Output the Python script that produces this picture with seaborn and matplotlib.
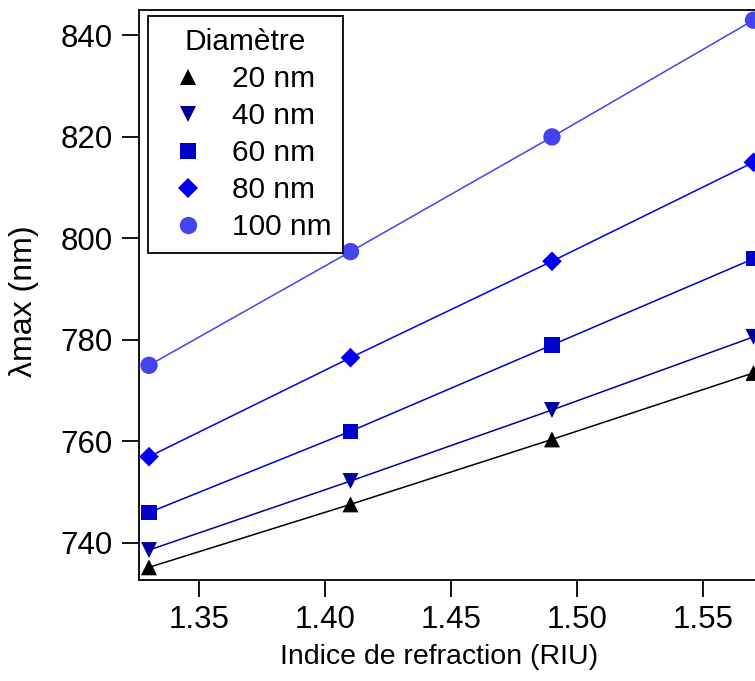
import matplotlib
matplotlib.use('Agg')
import matplotlib.pyplot as plt
from matplotlib.lines import Line2D
import pandas as pd
import seaborn as sns

# data
indices = [1.33, 1.41, 1.49, 1.57]
diametres = ['20 nm', '40 nm', '60 nm', '80 nm', '100 nm']
lam_20 = [735.2, 747.6, 760.4, 773.5]
lam_40 = [738.6, 752.2, 766.2, 780.6]
lam_60 = [746.0, 762.0, 779.0, 796.0]
lam_80 = [757.0, 776.5, 795.5, 815.0]
lam_100 = [775.0, 797.4, 820.0, 843.0]

couleurs = ['#000000', '#000099', '#0000CC', '#0000EE', '#4444EE']
symboles = ['^', 'v', 's', 'D', 'o']
tailles = [11.5, 11.5, 11, 10, 12.5]

rows = []
for d, vals in zip(diametres, [lam_20, lam_40, lam_60, lam_80, lam_100]):
    for n, v in zip(indices, vals):
        rows.append({'n': n, 'lam': v, 'diam': d})
df = pd.DataFrame(rows)

sns.set_style('ticks')
plt.rcParams['font.family'] = ['Liberation Sans', 'DejaVu Sans']
plt.rcParams['text.color'] = 'black'
plt.rcParams['axes.labelcolor'] = 'black'
plt.rcParams['xtick.color'] = 'black'
plt.rcParams['ytick.color'] = 'black'

fig = plt.figure(figsize=(7.55, 6.81), dpi=100)
ax = fig.add_axes([0.184, 0.1483, 0.829, 0.837])

palette = dict(zip(diametres, couleurs))
sns.lineplot(data=df, x='n', y='lam', hue='diam', palette=palette,
             linewidth=1.1, legend=False, ax=ax)
for d, c, m, s in zip(diametres, couleurs, symboles, tailles):
    sub = df[df['diam'] == d]
    sns.scatterplot(x=sub['n'], y=sub['lam'], color=c, marker=m,
                    s=s ** 2, edgecolor='none', ax=ax, zorder=3, clip_on=False)

ax.set_xlim(1.326, 1.5745)
ax.set_ylim(732.7, 845)
ax.set_xticks([1.35, 1.40, 1.45, 1.50, 1.55])
ax.set_xticklabels(['1.35', '1.40', '1.45', '1.50', '1.55'])
ax.set_yticks([740, 760, 780, 800, 820, 840])
ax.tick_params(axis='both', direction='out', length=12, width=1.3,
               labelsize=22.5, color='black', labelcolor='black')
ax.tick_params(axis='x', pad=6)
ax.tick_params(axis='y', pad=7)
for sp in ax.spines.values():
    sp.set_linewidth(1.3)
    sp.set_color('black')

ax.set_xlabel('Indice de refraction (RIU)', fontsize=20.5)
ax.xaxis.set_label_coords(0.479, -0.112)
ax.set_ylabel('λmax (nm)', fontsize=23)
ax.yaxis.set_label_coords(-0.16, 0.49)

handles = [Line2D([], [], linestyle='none', marker=m, color=c, markersize=s,
                  markeredgewidth=0)
           for c, m, s in zip(couleurs, symboles, tailles)]
leg = ax.legend(handles, diametres, title='Diamètre', loc='upper left',
                bbox_to_anchor=(0.0144, 0.989), borderaxespad=0,
                fontsize=21.5, title_fontsize=21.5, frameon=True, fancybox=False,
                labelspacing=0.3, handletextpad=0.53, handlelength=1.87,
                borderpad=0.4)
leg.get_frame().set_edgecolor('black')
leg.get_frame().set_linewidth(1.3)
leg.get_frame().set_alpha(1)

fig.savefig('out.png', dpi=100)
